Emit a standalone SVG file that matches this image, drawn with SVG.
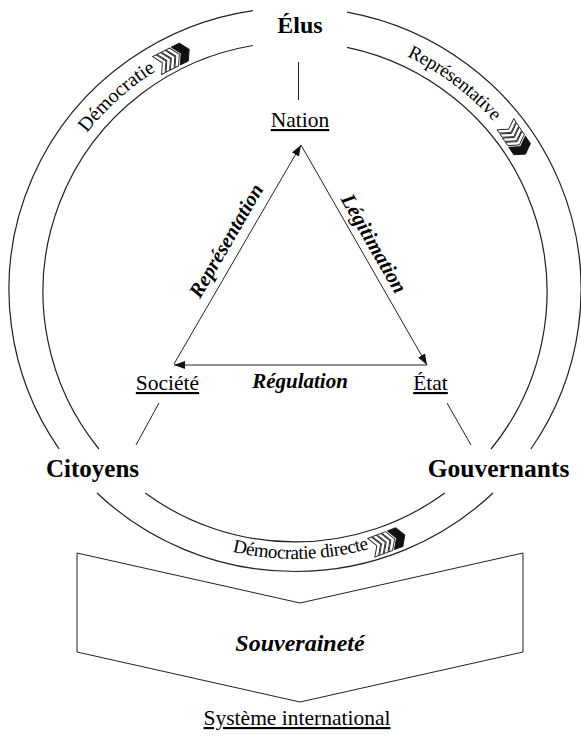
<svg xmlns="http://www.w3.org/2000/svg" xmlns:xlink="http://www.w3.org/1999/xlink" width="581" height="743" viewBox="0 0 581 743">
<style>
.ring{fill:none;stroke:#222;stroke-width:1.2}
.ln{fill:none;stroke:#222;stroke-width:1}
.arr{fill:none;stroke:#222;stroke-width:1;marker-end:url(#ah)}
.t{font-family:"Liberation Serif","Times New Roman",serif;fill:#000}
.u{text-decoration:underline}
.big{font-weight:bold}
.bi{font-weight:bold;font-style:italic}
.st{fill:#fff;stroke:#222;stroke-width:0.9}
.blk{fill:#111;stroke:#111;stroke-width:0.8}
</style>
<defs>
<marker id="ah" markerUnits="userSpaceOnUse" markerWidth="11" markerHeight="8" refX="11" refY="4" orient="auto">
<path d="M0,0 L11,4 L0,8 z" fill="#111"/>
</marker>
<path id="arcTop" d="M33,290.5 A262,259 0 0 1 557,290.5" fill="none"/>
<path id="arcBot" d="M23,290.5 A272,268.5 0 0 0 567,290.5" fill="none"/>
<g id="chev">
<polygon class="st" points="-19,-10 -15,-10 -9,0 -15,10 -19,10 -13,0"/>
<polygon class="st" points="-14,-10 -10,-10 -4,0 -10,10 -14,10 -8,0"/>
<polygon class="st" points="-9,-10 -5,-10 1,0 -5,10 -9,10 -3,0"/>
<polygon class="st" points="-4,-10 0,-10 6,0 0,10 -4,10 2,0"/>
<polygon class="blk" points="2,-10 11,-10 17,0 11,10 2,10 8,0"/>
</g>
</defs>

<g id="rings">
<path class="ring" d="M347,12.2 A286,282 0 0 1 530.9,449"/>
<path class="ring" d="M493,493 A286,282 0 0 1 97,493"/>
<path class="ring" d="M59.1,449 A286,282 0 0 1 253,10.6"/>
<path class="ring" d="M347,47.4 A252,250 0 0 1 491.1,449"/>
<path class="ring" d="M444.8,493 A252,250 0 0 1 145.2,493"/>
<path class="ring" d="M98.9,449 A252,250 0 0 1 253,45.5"/>
</g>

<g id="ring-labels">
<text class="t" font-size="20"><textPath xlink:href="#arcTop" startOffset="216" text-anchor="middle">Démocratie</textPath></text>
<text class="t" font-size="19"><textPath xlink:href="#arcTop" startOffset="579" text-anchor="middle" letter-spacing="-0.3">Représentative</textPath></text>
<text class="t" font-size="19"><textPath xlink:href="#arcBot" startOffset="430" text-anchor="middle" letter-spacing="-0.4">Démocratie directe</textPath></text>
<use xlink:href="#chev" transform="translate(174,57) rotate(-26.8)"/>
<use xlink:href="#chev" transform="translate(516,140) rotate(56.2)"/>
<use xlink:href="#chev" transform="translate(389,541) rotate(-21)"/>
</g>

<g id="connectors">
<line class="ln" x1="298.5" y1="62" x2="298.5" y2="100"/>
<line class="ln" x1="159" y1="403" x2="136" y2="445"/>
<line class="ln" x1="447" y1="403" x2="471" y2="445"/>
<line class="arr" x1="174" y1="364" x2="301" y2="145"/>
<line class="arr" x1="301" y1="145" x2="427" y2="365"/>
<line class="arr" x1="427" y1="365" x2="174" y2="365"/>
<text class="t bi" font-size="20.5" text-anchor="middle" transform="translate(232,244) rotate(-60)">Représentation</text>
<text class="t bi" font-size="21" text-anchor="middle" transform="translate(368,247) rotate(60)">Légitimation</text>
<text class="t bi" font-size="21" text-anchor="middle" x="300" y="388">Régulation</text>
</g>

<g id="elus"><text class="t big" font-size="24" text-anchor="middle" x="300" y="33">Élus</text></g>
<g id="citoyens"><text class="t big" font-size="25" text-anchor="middle" x="92.5" y="477">Citoyens</text></g>
<g id="gouvernants"><text class="t big" font-size="25.5" text-anchor="middle" x="498.5" y="477">Gouvernants</text></g>
<g id="nation"><text class="t u" font-size="21.5" text-anchor="middle" x="300" y="127">Nation</text></g>
<g id="societe"><text class="t u" font-size="21.5" text-anchor="middle" x="167.5" y="390">Société</text></g>
<g id="etat"><text class="t u" font-size="21.5" text-anchor="middle" x="430.5" y="390">État</text></g>

<g id="souverainete">
<polygon points="77,553 300,603 523,553 523,652 300,702 77,652" fill="#fff" stroke="#222" stroke-width="1"/>
<text class="t bi" font-size="24" text-anchor="middle" x="300" y="651">Souveraineté</text>
</g>

<g id="systeme"><text class="t u" font-size="21.5" text-anchor="middle" x="297" y="725">Système international</text></g>
</svg>
